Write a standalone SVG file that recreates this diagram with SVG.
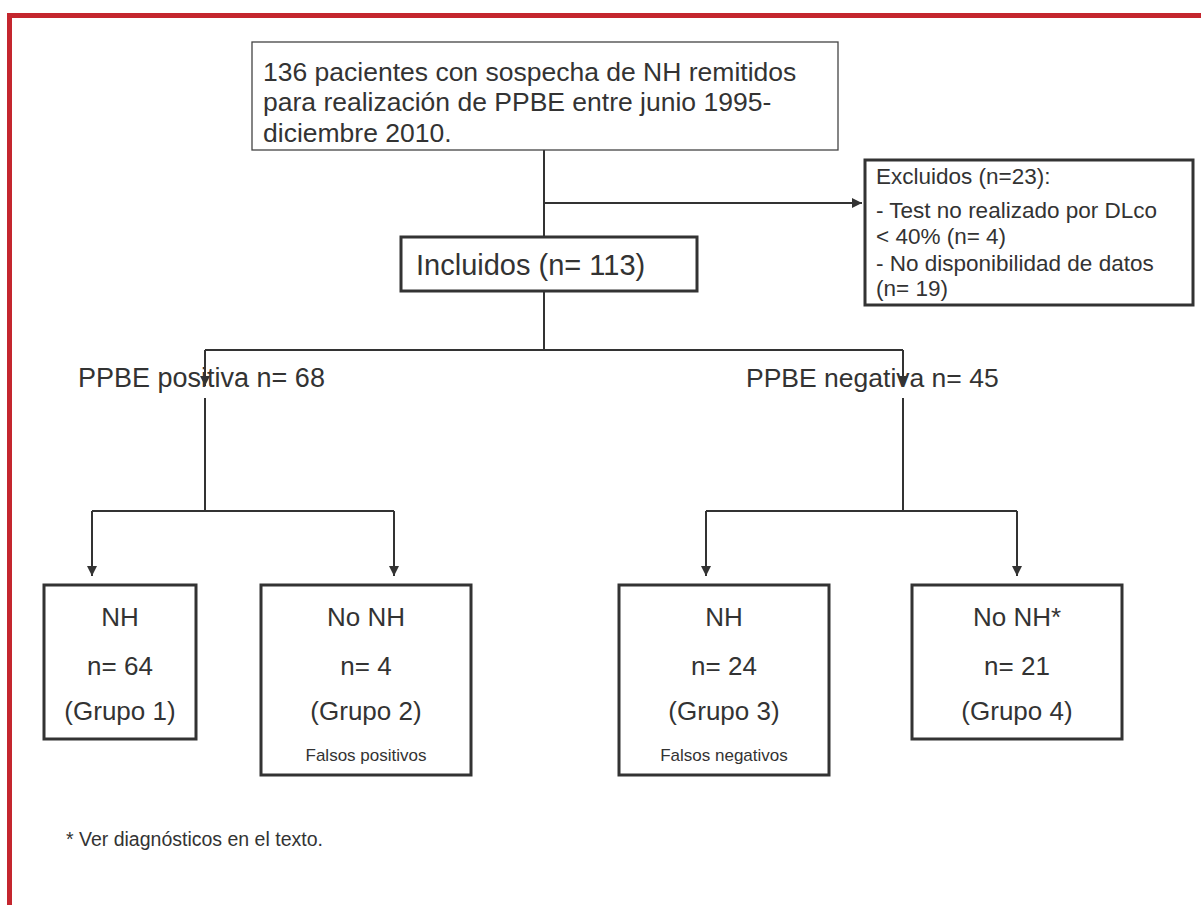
<svg xmlns="http://www.w3.org/2000/svg" width="1201" height="905" viewBox="0 0 1201 905">
<defs>
<style>
text{font-family:"Liberation Sans",Arial,Helvetica,sans-serif;fill:#333}
.thin{fill:#fff;stroke:#444;stroke-width:1.3}
.thick{fill:#fff;stroke:#333;stroke-width:3}
.ln{fill:none;stroke:#333;stroke-width:2}
.c{text-anchor:middle}
.big{font-size:26px}
.top{font-size:26.5px}
.mid{font-size:22.5px}
.sm{font-size:17px}
</style>
<marker id="ah" viewBox="0 0 10 10" refX="10" refY="5" markerWidth="5" markerHeight="5" orient="auto" markerUnits="strokeWidth">
<path d="M0,0 L10,5 L0,10 z" fill="#333"/>
</marker>
</defs>
<rect width="1201" height="905" fill="#fff"/>
<path d="M9.5,905 V15.5 H1201" fill="none" stroke="#c4262e" stroke-width="5"/>
<g id="connectors">
<path class="ln" d="M544,150 V237" stroke-width="1.5"/>
<path class="ln" d="M544,203 H862" stroke-width="1.5" marker-end="url(#ah)"/>
<path class="ln" d="M544,291 V350"/>
<path class="ln" d="M205,350 H903"/>
<path class="ln" d="M205,350 V386" marker-end="url(#ah)"/>
<path class="ln" d="M903,350 V386" marker-end="url(#ah)"/>
<path class="ln" d="M205,398 V511"/>
<path class="ln" d="M92,511 H394"/>
<path class="ln" d="M92,511 V576" marker-end="url(#ah)"/>
<path class="ln" d="M394,511 V576" marker-end="url(#ah)"/>
<path class="ln" d="M903,398 V511"/>
<path class="ln" d="M706,511 H1017"/>
<path class="ln" d="M706,511 V576" marker-end="url(#ah)"/>
<path class="ln" d="M1017,511 V576" marker-end="url(#ah)"/>
</g>
<g id="n-inicio">
<rect class="thin" x="252" y="42" width="586" height="108"/>
<text class="top" x="263" y="81">136 pacientes con sospecha de NH remitidos</text>
<text class="top" x="263" y="111">para realización de PPBE entre junio 1995-</text>
<text class="top" x="263" y="142">diciembre 2010.</text>
</g>
<g id="n-excluidos">
<rect class="thick" x="865" y="160" width="328" height="145"/>
<text class="mid" x="876" y="184">Excluidos (n=23):</text>
<text class="mid" x="876" y="218">- Test no realizado por DLco</text>
<text class="mid" x="876" y="244">&lt; 40% (n= 4)</text>
<text class="mid" x="876" y="271">- No disponibilidad de datos</text>
<text class="mid" x="876" y="296">(n= 19)</text>
</g>
<g id="n-incluidos">
<rect class="thick" x="401" y="237" width="296" height="54"/>
<text x="416" y="275" style="font-size:29px">Incluidos (n= 113)</text>
</g>
<g id="n-positiva">
<text x="78" y="387" style="font-size:27px">PPBE positiva n= 68</text>
</g>
<g id="n-negativa">
<text x="746" y="387" style="font-size:26.5px">PPBE negativa n= 45</text>
</g>
<g id="n-g1">
<rect class="thick" x="44" y="585" width="152" height="154"/>
<text class="big c" x="120" y="626">NH</text>
<text class="big c" x="120" y="675">n= 64</text>
<text class="big c" x="120" y="720">(Grupo 1)</text>
</g>
<g id="n-g2">
<rect class="thick" x="261" y="585" width="210" height="190"/>
<text class="big c" x="366" y="626">No NH</text>
<text class="big c" x="366" y="675">n= 4</text>
<text class="big c" x="366" y="720">(Grupo 2)</text>
<text class="sm c" x="366" y="761">Falsos positivos</text>
</g>
<g id="n-g3">
<rect class="thick" x="619" y="585" width="210" height="190"/>
<text class="big c" x="724" y="626">NH</text>
<text class="big c" x="724" y="675">n= 24</text>
<text class="big c" x="724" y="720">(Grupo 3)</text>
<text class="sm c" x="724" y="761">Falsos negativos</text>
</g>
<g id="n-g4">
<rect class="thick" x="912" y="585" width="210" height="154"/>
<text class="big c" x="1017" y="626">No NH*</text>
<text class="big c" x="1017" y="675">n= 21</text>
<text class="big c" x="1017" y="720">(Grupo 4)</text>
</g>
<g id="nota">
<text x="66" y="846" style="font-size:19.5px">* Ver diagnósticos en el texto.</text>
</g>
</svg>
